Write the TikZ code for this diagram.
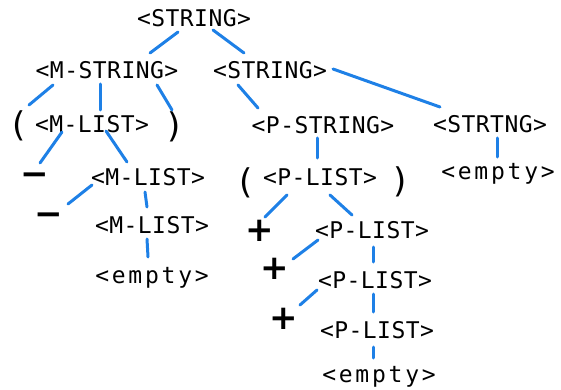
\documentclass[tikz,border=0pt]{standalone}
\usepackage{fontspec}
\newfontfamily\hand[LetterSpace=2]{DejaVu Sans Mono}
\newfontfamily\handwide[LetterSpace=12]{DejaVu Sans Mono}
\newfontfamily\symf{DejaVu Sans}
\definecolor{edgeblue}{HTML}{1E80E6}
\begin{document}
\begin{tikzpicture}[x=1pt,y=-1pt,
  lbl/.style={font=\hand\fontsize{23}{26}\selectfont, inner sep=0pt, text height=16pt, text depth=0pt},
  emptylbl/.style={font=\handwide\fontsize{23}{26}\selectfont, inner sep=0pt, text height=16pt, text depth=0pt},
  paren/.style={font=\symf\fontsize{34}{36}\selectfont, inner sep=0pt},
  opsym/.style={font=\symf\bfseries\fontsize{34}{36}\selectfont, inner sep=0pt, text height=24pt, text depth=0pt},
  edge/.style={draw=edgeblue, line width=3pt, line cap=round}]
\useasboundingbox (0,0) rectangle (561,390);
% nodes
\node[lbl] (root) at (194,19) {<STRING>};
\node[lbl] (ms) at (107,71) {<M-STRING>};
\node[lbl] (s2) at (270,71) {<STRING>};
\node[paren] (lp1) at (19,126) {(};
\node[lbl] (ml1) at (92,124) {<M-LIST>};
\node[paren] (rp1) at (174,127) {)};
\node[lbl] (ps) at (323,126) {<P-STRING>};
\node[lbl] (st) at (490,125) {<STRTNG>};
\node[emptylbl] (e1) at (498,171) {<empty>};
\node[opsym] (d1) at (35,173) {−};
\node[lbl] (ml2) at (148,177) {<M-LIST>};
\node[paren] (lp2) at (246,183) {(};
\node[lbl] (pl1) at (320,177) {<P-LIST>};
\node[paren] (rp2) at (400,182) {)};
\node[opsym] (d2) at (49,213) {−};
\node[lbl] (ml3) at (152,225) {<M-LIST>};
\node[opsym] (p1) at (260,229) {+};
\node[lbl] (pl2) at (372,230) {<P-LIST>};
\node[emptylbl] (e2) at (152,275) {<empty>};
\node[opsym] (p2) at (275,267) {+};
\node[lbl] (pl3) at (375,280) {<P-LIST>};
\node[opsym] (p3) at (284,317) {+};
\node[lbl] (pl4) at (377,330) {<P-LIST>};
\node[emptylbl] (e3) at (379,374) {<empty>};
% edges
\draw[edge] ([shift={(-16,13)}]root.center) -- ([shift={(43,-18)}]ms.center);
\draw[edge] ([shift={(19,11)}]root.center) -- ([shift={(-26,-18)}]s2.center);
\draw[edge] ([shift={(-54,14)}]ms.center) -- ([shift={(10,-21)}]lp1.center);
\draw[edge] ([shift={(-7,13)}]ms.center) -- ([shift={(8,-14)}]ml1.center);
\draw[edge] ([shift={(50,14)}]ms.center) -- ([shift={(-2,-17)}]rp1.center);
\draw[edge] ([shift={(-32,14)}]s2.center) -- ([shift={(-65,-18)}]ps.center);
\draw[edge] ([shift={(63,-2)}]s2.center) -- ([shift={(-50,-18)}]st.center);
\draw[edge] ([shift={(7,13)}]st.center) -- ([shift={(-1,-14)}]e1.center);
\draw[edge] ([shift={(-6,12)}]ps.center) -- ([shift={(-3,-19)}]pl1.center);
\draw[edge] ([shift={(-30,8)}]ml1.center) -- ([shift={(5,-10)}]d1.center);
\draw[edge] ([shift={(14,7)}]ml1.center) -- ([shift={(-21,-15)}]ml2.center);
\draw[edge] ([shift={(-56,8)}]ml2.center) -- ([shift={(19,-9)}]d2.center);
\draw[edge] ([shift={(-3,15)}]ml2.center) -- ([shift={(-5,-18)}]ml3.center);
\draw[edge] ([shift={(-5,14)}]ml3.center) -- ([shift={(-4,-18)}]e2.center);
\draw[edge] ([shift={(-33,18)}]pl1.center) -- ([shift={(5,-12)}]p1.center);
\draw[edge] ([shift={(10,18)}]pl1.center) -- ([shift={(-20,-15)}]pl2.center);
\draw[edge] ([shift={(-54,10)}]pl2.center) -- ([shift={(18,-8)}]p2.center);
\draw[edge] ([shift={(1,17)}]pl2.center) -- ([shift={(-2,-18)}]pl3.center);
\draw[edge] ([shift={(-58,10)}]pl3.center) -- ([shift={(16,-12)}]p3.center);
\draw[edge] ([shift={(-2,14)}]pl3.center) -- ([shift={(-4,-18)}]pl4.center);
\draw[edge] ([shift={(-4,17)}]pl4.center) -- ([shift={(-6,-16)}]e3.center);
\end{tikzpicture}
\end{document}
